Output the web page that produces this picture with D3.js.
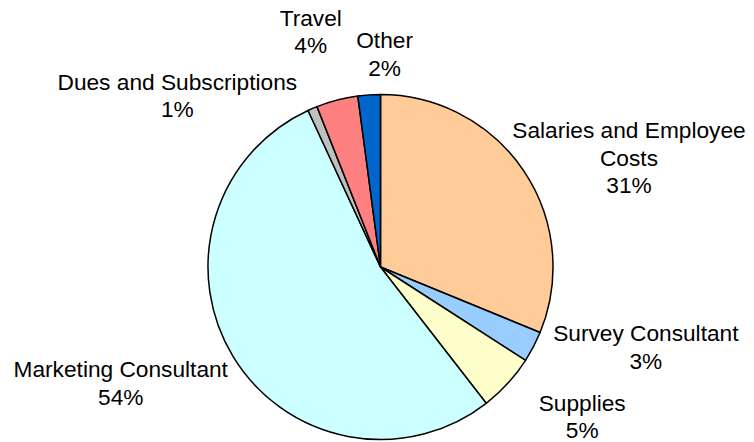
<!DOCTYPE html>
<meta charset="utf-8">
<style>
body { margin: 0; background: #fff; }
text {
  font: 22.7px "Liberation Sans", Arial, Helvetica, sans-serif;
  fill: #000;
}
</style>
<body>
<script src="https://cdn.jsdelivr.net/npm/d3@7"></script>
<script>

var categories = ["Salaries and Employee Costs", "Survey Consultant", "Supplies",
  "Marketing Consultant", "Dues and Subscriptions", "Travel", "Other"];
var values = [31.2, 2.9, 5.4, 53.6, 0.9, 3.9, 2.1];
var colors = ["#ffcc99", "#99ccff", "#ffffcc", "#ccffff", "#c0c0c0", "#ff8080", "#0066cc"];
// how each label is broken into lines
var labelLines = [["Salaries and Employee", "Costs"], ["Survey Consultant"], ["Supplies"],
  ["Marketing Consultant"], ["Dues and Subscriptions"], ["Travel"], ["Other"]];

var width = 754,
    height = 442,
    cx = 380.5,
    cy = 267,
    radius = 172.5,
    lineH = 27.5;

// Excel moved some labels to keep them apart; nudge from the default spot
var labelNudge = {
  "Salaries and Employee Costs": [0, 15],
  "Survey Consultant": [21, -17],
  "Supplies": [35, 8],
  "Marketing Consultant": [-12, 7],
  "Dues and Subscriptions": [-84, 21],
  "Travel": [-16, -33],
  "Other": [18, -4]
};

var data = categories.map(function(c, i) {
  return { name: c, value: values[i], color: colors[i], lines: labelLines[i] };
});
var total = d3.sum(values);
var pct = d3.format(".0%");

var svg = d3.select("body").append("svg")
    .attr("width", width)
    .attr("height", height);

var pie = d3.pie()
    .sort(null)
    .value(function(d) { return d.value; });

var arc = d3.arc()
    .innerRadius(0)
    .outerRadius(radius);

var arcs = pie(data);

var g = svg.append("g")
    .attr("transform", "translate(" + cx + "," + cy + ")");

g.selectAll("path")
    .data(arcs)
  .enter().append("path")
    .attr("d", arc)
    .style("fill", function(d) { return d.data.color; })
    .style("stroke", "#000")
    .style("stroke-width", 1.5)
    .style("stroke-linejoin", "round");

// labels
var labels = g.selectAll("text.label")
    .data(arcs)
  .enter().append("text")
    .attr("class", "label")
    .attr("text-anchor", "middle");

labels.each(function(d) {
  var t = d3.select(this);
  var lines = d.data.lines.concat([pct(d.data.value / total)]);
  lines.forEach(function(s, i) {
    t.append("tspan")
      .attr("x", 0)
      .attr("y", i * lineH)
      .text(s);
  });
  var box = this.getBBox();
  var a = (d.startAngle + d.endAngle) / 2;
  var ux = Math.sin(a), uy = -Math.cos(a);
  var r = radius + 10;
  var bx = ux * r + ux * box.width / 2,
      by = uy * r + uy * box.height / 2;
  var nudge = labelNudge[d.data.name] || [0, 0];
  // block centre -> first baseline
  var x = bx + nudge[0],
      y = by - (box.y + box.height / 2) + nudge[1];
  t.attr("transform", "translate(" + x + "," + y + ")");
});

</script>
</body>
